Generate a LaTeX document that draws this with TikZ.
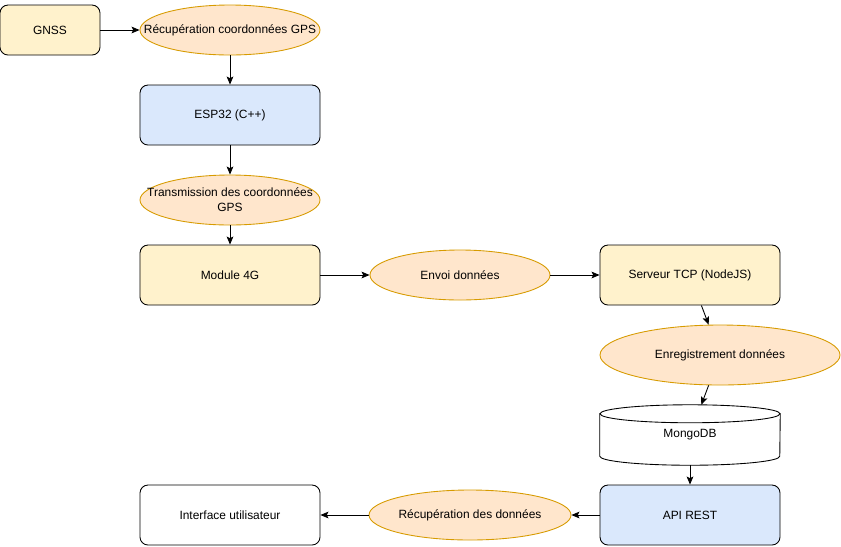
\documentclass[tikz,border=0pt]{standalone}
\usepackage{fontspec}
\setmainfont{Liberation Sans}
\usetikzlibrary{calc,shapes.geometric,arrows.meta}
\definecolor{jaune}{HTML}{FFF2CC}
\definecolor{bleu}{HTML}{DAE8FC}
\definecolor{orangefond}{HTML}{FFE6CC}
\definecolor{orangebord}{HTML}{D79B00}

\begin{document}
\begin{tikzpicture}[x=0.03cm,y=-0.03cm,font=\fontsize{10.2}{12.7}\selectfont]
\tikzstyle{boite}=[rectangle,rounded corners=0.24cm,draw=black,line width=0.75pt,minimum width=5.4cm,minimum height=1.8cm]
\tikzstyle{jaunebox}=[boite,fill=jaune]
\tikzstyle{bleubox}=[boite,fill=bleu]
\tikzstyle{bulle}=[ellipse,draw=orangebord,fill=orangefond,line width=0.75pt,minimum width=5.4cm,minimum height=1.5cm,inner sep=0pt]
\tikzstyle{fleche}=[-{Stealth[length=0.24cm,width=0.2cm,inset=0.05cm]},line width=0.75pt]
\useasboundingbox (0,0) rectangle (841,546);
% chaine d'acquisition
\node [jaunebox,minimum width=3cm,minimum height=1.5cm] (gnss) at (50,30) {GNSS};
\node [bulle,label={center:Récupération coordonnées GPS}] (recup) at (230,30) {};
\node [bleubox] (esp) at (230,115) {ESP32 (C++)};
\node [bulle,label={[align=center]center:Transmission des coordonnées\\GPS}] (trans) at (230,200) {};
\node [jaunebox] (module) at (230,275) {Module 4G};
\node [bulle] (envoi) at (460,275) {Envoi données};
\node [jaunebox] (serveur) at (690,275) {Serveur TCP (NodeJS)};
\node [bulle,minimum width=7.2cm,minimum height=1.8cm] (enreg) at (720,355) {Enregistrement données};
% base de donnees
\node [rectangle,minimum width=5.4cm,minimum height=1.8cm] (mongo) at (690,435) {};
\draw [line width=0.75pt,fill=white] ($(mongo.north west)+(0,9)$) -- ($(mongo.south west)+(0,-9)$)
  arc [start angle=180,end angle=360,x radius=2.7cm,y radius=0.27cm] -- ($(mongo.north east)+(0,9)$) -- cycle;
\draw [line width=0.75pt,fill=white] ($(mongo.north)+(0,9)$) ellipse [x radius=2.7cm,y radius=0.27cm];
\node at (mongo.center) {MongoDB};
% restitution
\node [bleubox] (api) at (690,515) {API REST};
\node [bulle,minimum width=6cm] (recupdon) at (470,515) {Récupération des données};
\node [boite,fill=white] (interface) at (230,515) {Interface utilisateur};
% liaisons
\draw [fleche] (gnss) -- (recup);
\draw [fleche] (recup) -- (esp);
\draw [fleche] (esp) -- (trans);
\draw [fleche] (trans) -- (module);
\draw [fleche] (module) -- (envoi);
\draw [fleche] (envoi) -- (serveur);
\draw [fleche] (serveur) -- (enreg);
\draw [fleche] (enreg) -- (mongo);
\draw [fleche] (mongo) -- (api);
\draw [fleche] (api) -- (recupdon);
\draw [fleche] (recupdon) -- (interface);
\end{tikzpicture}
\end{document}
